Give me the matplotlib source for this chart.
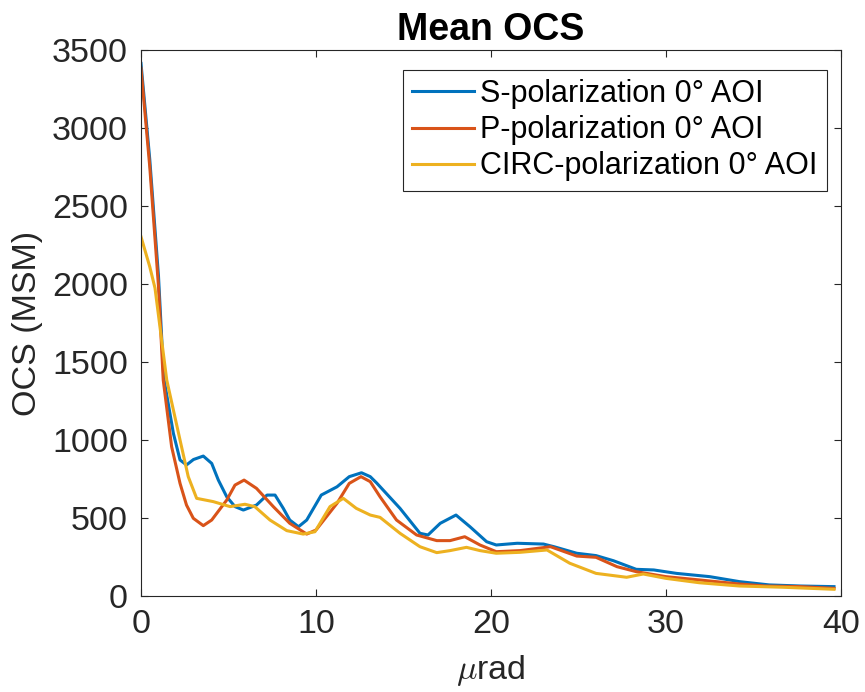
import numpy as np
import matplotlib.pyplot as plt

plt.rcParams['font.family'] = ['Liberation Sans', 'DejaVu Sans']
plt.rcParams['mathtext.fontset'] = 'cm'

# S-polarization (blue)
s_x = [0, 0.5, 1.0, 1.3, 1.85, 2.23, 2.6, 3.0, 3.56, 4.04, 4.42, 4.9, 5.37, 5.85,
       6.6, 7.2, 7.66, 8.13, 8.5, 9.0, 9.47, 10.3, 11.2, 11.9, 12.6, 13.1, 13.47,
       14.8, 15.94, 16.4, 17.1, 18.0, 18.8, 19.75, 20.3, 21.5, 23.0, 23.6, 24.9,
       26.0, 27.0, 28.3, 29.3, 30.6, 32.5, 34.2, 35.9, 37.7, 39.6]
s_y = [3414, 2800, 2050, 1400, 1043, 872, 840, 875, 897, 850, 743, 636, 573, 551,
       583, 647, 647, 562, 487, 444, 487, 647, 700, 765, 790, 765, 724,
       562, 402, 391, 466, 519, 444, 348, 327, 338, 333, 316, 274,
       259, 226, 171, 167, 145, 124, 92, 71, 64, 60]

# P-polarization (red)
p_x = [0, 0.5, 1.0, 1.27, 1.75, 2.23, 2.6, 2.99, 3.56, 4.04, 4.9, 5.37, 5.89, 6.6,
       7.56, 8.5, 9.47, 10.0, 11.2, 11.9, 12.57, 13.1, 13.66, 14.6, 15.75, 16.9,
       17.66, 18.5, 19.37, 20.3, 21.66, 23.4, 24.9, 26.0, 27.2, 28.3, 30.0, 31.9,
       34.2, 35.7, 37.7, 39.6]
p_y = [3383, 2752, 1983, 1385, 957, 722, 583, 498, 451, 487, 615, 711, 743, 690,
       573, 466, 397, 423, 594, 722, 765, 733, 636, 487, 391, 355,
       355, 380, 327, 284, 291, 316, 256, 248, 188, 156, 124, 103,
       77, 64, 60, 49]

# CIRC-polarization (yellow)
c_x = [0, 0.5, 0.8, 1.47, 2.23, 2.7, 3.18, 4.13, 5.09, 5.94, 6.5, 7.37, 8.33, 9.27,
       9.94, 10.8, 11.56, 12.3, 13.1, 13.66, 14.8, 15.94, 16.9, 17.66, 18.6, 19.37,
       20.3, 21.66, 23.2, 24.5, 26.0, 27.75, 28.7, 30.0, 31.9, 34.2, 36.7, 39.6]
c_y = [2303, 2111, 1974, 1385, 1000, 765, 626, 605, 573, 588, 573, 487, 419, 397,
       412, 573, 626, 562, 519, 504, 402, 316, 278, 291, 312, 291,
       274, 280, 295, 210, 145, 120, 141, 113, 85, 64, 56, 43]

labels = ['S-polarization 0° AOI', 'P-polarization 0° AOI', 'CIRC-polarization 0° AOI']
x_ticks = [0, 10, 20, 30, 40]
y_ticks = [0, 500, 1000, 1500, 2000, 2500, 3000, 3500]

fig = plt.figure(figsize=(8.65, 6.92), dpi=100)
ax = fig.add_axes([141/865, 1 - 596/692, 700/865, 546/692])

ax.plot(s_x, s_y, color='#0072BD', lw=2.2, label=labels[0])
ax.plot(p_x, p_y, color='#D95319', lw=2.2, label=labels[1])
ax.plot(c_x, c_y, color='#EDB120', lw=2.2, label=labels[2])

ax.set_xlim(0, 40)
ax.set_ylim(0, 3500)
ax.set_xticks(x_ticks)
ax.set_yticks(y_ticks)

axc = '#262626'
for sp in ax.spines.values():
    sp.set_color(axc)
    sp.set_linewidth(0.8)
ax.tick_params(direction='in', top=True, right=True, length=5, width=0.8,
               colors=axc, labelsize=24.5, pad=9.5)

ax.set_title('Mean OCS', fontsize=27, fontweight='bold', pad=7.5)
ax.set_xlabel(r'$\mu$rad', fontsize=24.5, color=axc, labelpad=9)
ax.set_ylabel('OCS (MSM)', fontsize=24.5, color=axc, labelpad=6)

leg = ax.legend(loc='upper right', bbox_to_anchor=(0.98, 0.9634), borderaxespad=0,
                fontsize=22, fancybox=False, framealpha=1, edgecolor=axc,
                handlelength=2.05, handletextpad=0.2, labelspacing=0.2,
                borderpad=0.3)
leg.get_frame().set_linewidth(0.8)
for line in leg.get_lines():
    line.set_linewidth(2.2)

fig.savefig('out.png', dpi=100)
